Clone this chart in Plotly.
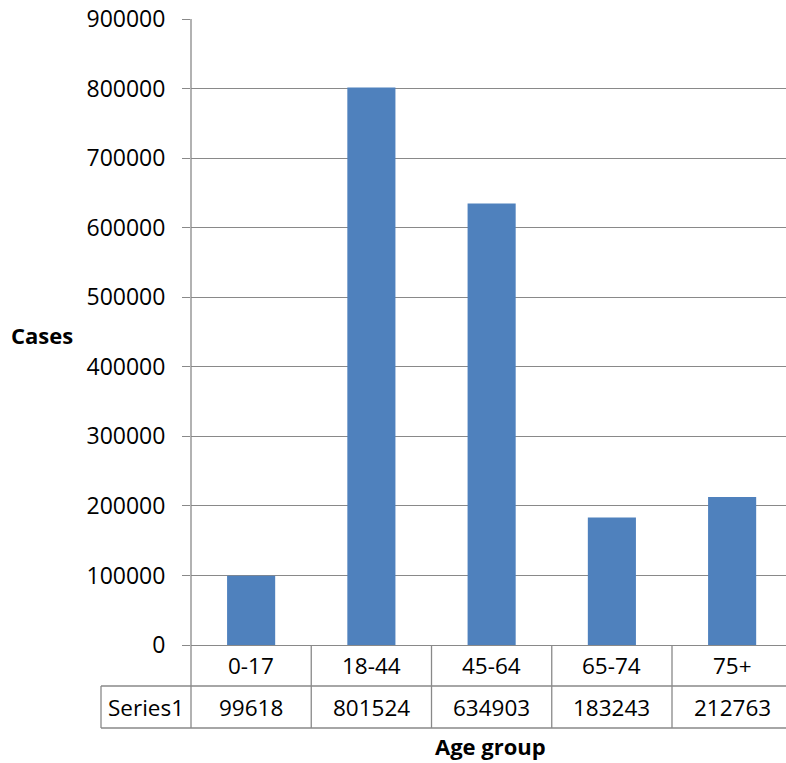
import plotly.graph_objects as go

# Data
age_groups = ["0-17", "18-44", "45-64", "65-74", "75+"]
cases = [99618, 801524, 634903, 183243, 212763]
series_name = "Series1"
y_ticks = [0, 100000, 200000, 300000, 400000, 500000, 600000, 700000, 800000, 900000]

# Layout geometry (pixels)
W, H = 786, 763
L, T, B = 191, 19, 118
plot_w = W - L
plot_h = H - T - B
x_range = [-0.5, 4.448]
line_col = "#898989"
bar_col = "#4F81BD"
font_family = "Open Sans, Noto Sans, sans-serif"


def px_x(p):
    return (p - L) / plot_w


def px_y(p):
    return (H - B - p) / plot_h


def cat_x(v):
    return (v - x_range[0]) / (x_range[1] - x_range[0])


fig = go.Figure(
    go.Bar(
        x=age_groups,
        y=cases,
        marker=dict(color=bar_col, line=dict(width=0)),
        width=0.4,
        showlegend=False,
    )
)

row1_top = H - B          # x-axis line
row1_bot = row1_top + 41  # between category row and value row
row2_bot = row1_top + 83  # bottom of the table
label_left = 101

shapes = []
line = dict(color=line_col, width=1.3)
# vertical axis line running down through the table
shapes.append(dict(type="line", xref="paper", yref="paper", x0=0, x1=0,
                   y0=px_y(row2_bot), y1=1, line=line))
# horizontal table lines
for yy, x_start in [(row1_bot, label_left), (row2_bot, label_left)]:
    shapes.append(dict(type="line", xref="paper", yref="paper",
                       x0=px_x(x_start), x1=1, y0=px_y(yy), y1=px_y(yy), line=line))
# left border of the series label cell
shapes.append(dict(type="line", xref="paper", yref="paper",
                   x0=px_x(label_left), x1=px_x(label_left),
                   y0=px_y(row2_bot), y1=px_y(row1_bot), line=line))
# category dividers
for i in range(len(age_groups)):
    xv = cat_x(i + 0.5)
    if xv <= 1:
        shapes.append(dict(type="line", xref="paper", yref="paper", x0=xv, x1=xv,
                           y0=px_y(row2_bot), y1=0, line=line))

annotations = []
cell_font = dict(family=font_family, size=22.5, color="#000000")
row1_mid = (row1_top + row1_bot) / 2
row2_mid = (row1_bot + row2_bot) / 2
for cat, val in zip(age_groups, cases):
    annotations.append(dict(x=cat, xref="x", y=px_y(row1_mid), yref="paper",
                            text=cat, showarrow=False, font=cell_font,
                            xanchor="center", yanchor="middle"))
    annotations.append(dict(x=cat, xref="x", y=px_y(row2_mid), yref="paper",
                            text=str(val), showarrow=False, font=cell_font,
                            xanchor="center", yanchor="middle"))
annotations.append(dict(x=px_x((label_left + L) / 2), xref="paper", y=px_y(row2_mid),
                        yref="paper", text=series_name, showarrow=False, font=cell_font,
                        xanchor="center", yanchor="middle"))

title_font = dict(family=font_family, size=22, color="#000000")
annotations.append(dict(x=px_x(9), xref="paper", y=px_y(335), yref="paper",
                        text="<b>Cases</b>", showarrow=False, font=title_font,
                        xanchor="left", yanchor="middle"))
annotations.append(dict(x=px_x(490), xref="paper", y=px_y(746), yref="paper",
                        text="<b>Age group</b>", showarrow=False, font=title_font,
                        xanchor="center", yanchor="middle"))

fig.update_layout(
    width=W,
    height=H,
    margin=dict(l=L, r=0, t=T, b=B, pad=0),
    paper_bgcolor="white",
    plot_bgcolor="white",
    bargap=0.6,
    shapes=shapes,
    annotations=annotations,
    font=dict(family=font_family, color="#000000"),
    xaxis=dict(
        type="category",
        range=x_range,
        showticklabels=False,
        ticks="",
        showgrid=False,
        zeroline=False,
        showline=True,
        linecolor=line_col,
        linewidth=1.3,
        fixedrange=True,
    ),
    yaxis=dict(
        range=[0, 900000],
        tickvals=y_ticks,
        ticktext=[str(v) for v in y_ticks],
        tickfont=dict(family=font_family, size=23, color="#000000"),
        ticks="outside",
        ticklen=8,
        tickwidth=1.3,
        tickcolor=line_col,
        ticklabelstandoff=12,
        showgrid=True,
        gridcolor=line_col,
        gridwidth=1.3,
        zeroline=False,
        showline=False,
        fixedrange=True,
    ),
)

fig.write_html("out.html")
